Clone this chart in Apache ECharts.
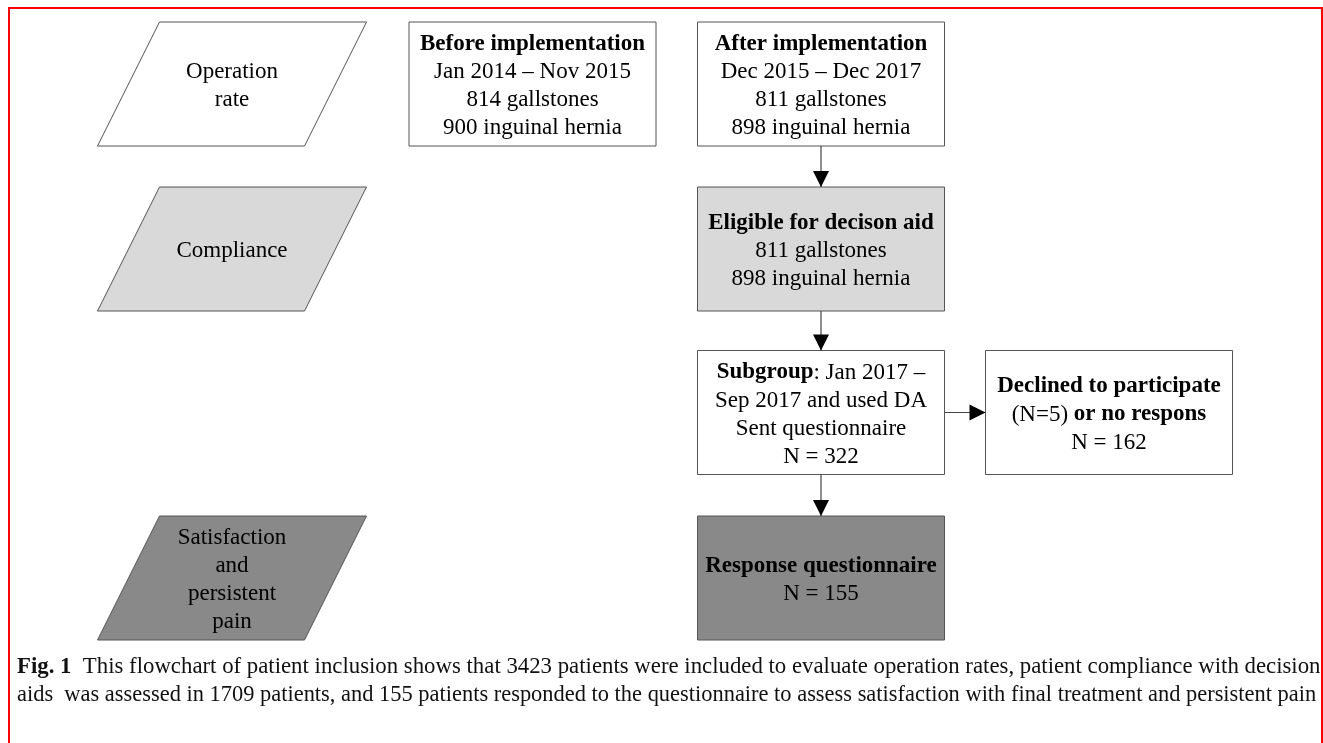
<!DOCTYPE html>
<html>
<head>
<meta charset="utf-8">
<script src="https://cdn.jsdelivr.net/npm/echarts@6/dist/echarts.min.js"></script>
<style>
  html, body { margin: 0; padding: 0; background: #fff; }
  #main { width: 1323px; height: 743px; }
</style>
</head>
<body>
<div id="main"></div>
<script>
// stage labels on the left (parallelograms)
const stageLabels = ['Operation\nrate', 'Compliance', 'Satisfaction\nand\npersistent\npain'];
const stageRows = [0, 1, 3];
const stageShades = ['white', 'light', 'dark'];

// flow boxes
const boxTexts = [
  '{b|Before implementation}\nJan 2014 – Nov 2015\n814 gallstones\n900 inguinal hernia',
  '{b|After implementation}\nDec 2015 – Dec 2017\n811 gallstones\n898 inguinal hernia',
  '{b|Eligible for decison aid}\n811 gallstones\n898 inguinal hernia',
  '{b|Subgroup}: Jan 2017 –\nSep 2017 and used DA\nSent questionnaire\nN = 322',
  '{b|Declined to participate}\n(N=5) {b|or no respons}\nN = 162',
  '{b|Response questionnaire}\nN = 155'
];
const boxCols = [1, 2, 2, 2, 3, 2];
const boxRows = [0, 0, 1, 2, 2, 3];
const boxShades = ['white', 'white', 'light', 'white', 'white', 'dark'];

// arrows: [from box, to box]
const links = [[1, 2], [2, 3], [3, 5], [3, 4]];

const captionLine1 = 'This flowchart of patient inclusion shows that 3423 patients were included to evaluate operation rates, patient compliance with decision';
const captionLine2 = 'aids  was assessed in 1709 patients, and 155 patients responded to the questionnaire to assess satisfaction with final treatment and persistent pain';

// layout (pixel centres of columns / rows, shape sizes)
const colX = [232, 532.5, 821, 1109];
const rowY = [84, 249, 412.5, 578];
const BOX_W = 247, BOX_H = 124;
const PAR_W = 207, PAR_SKEW = 62;
const shadeFill = { white: '#ffffff', light: '#d9d9d9', dark: '#898989' };
const FONT = '"Liberation Serif", "Times New Roman", serif';

const chart = echarts.init(document.getElementById('main'));

const richBold = { b: { fontWeight: 'bold', fontSize: 23, fontFamily: FONT, lineHeight: 28 } };

function textEl(x, y, text) {
  return {
    type: 'text',
    style: {
      text: text, x: x, y: y,
      align: 'center', verticalAlign: 'middle',
      fontSize: 23, fontFamily: FONT, lineHeight: 28,
      fill: '#000', rich: richBold
    },
    z2: 10
  };
}

const stageData = stageLabels.map((t, i) => [colX[0], rowY[stageRows[i]], i]);
const boxData = boxTexts.map((t, i) => [colX[boxCols[i]], rowY[boxRows[i]], i]);
const linkData = links.map((l, i) => [colX[boxCols[l[0]]], rowY[boxRows[l[0]]], i]);

const option = {
  animation: false,
  backgroundColor: '#fff',
  grid: { left: 0, right: 0, top: 0, bottom: 0 },
  xAxis: { type: 'value', min: 0, max: 1323, show: false },
  yAxis: { type: 'value', min: 0, max: 743, inverse: true, show: false },
  title: {
    text: '{b|Fig. 1}{l1|  ' + captionLine1 + '}\n{l2|' + captionLine2 + '}',
    left: 12,
    top: 648,
    textStyle: {
      fontFamily: FONT, fontSize: 22.6, fontWeight: 'normal', color: '#111', lineHeight: 28,
      rich: {
        b: { fontFamily: FONT, fontSize: 22.8, fontWeight: 'bold', color: '#111', lineHeight: 28 },
        l1: { fontFamily: FONT, fontSize: 22.8, color: '#111', lineHeight: 28 },
        l2: { fontFamily: FONT, fontSize: 22.45, color: '#111', lineHeight: 28 }
      }
    }
  },
  graphic: [{
    type: 'rect',
    shape: { x: 9, y: 8, width: 1313, height: 780 },
    style: { fill: 'none', stroke: '#ff0000', lineWidth: 2 },
    z: 100
  }],
  series: [
    {
      type: 'custom',
      name: 'stages',
      data: stageData,
      renderItem: function (params, api) {
        const p = api.coord([api.value(0), api.value(1)]);
        const i = api.value(2);
        const hw = (PAR_W + PAR_SKEW) / 2, hh = BOX_H / 2;
        return {
          type: 'group',
          children: [{
            type: 'polygon',
            shape: { points: [
              [p[0] - hw + PAR_SKEW, p[1] - hh], [p[0] + hw, p[1] - hh],
              [p[0] + hw - PAR_SKEW, p[1] + hh], [p[0] - hw, p[1] + hh]
            ] },
            style: { fill: shadeFill[stageShades[i]], stroke: '#555', lineWidth: 1 }
          }, textEl(p[0], p[1] + 1.5, stageLabels[i])]
        };
      }
    },
    {
      type: 'custom',
      name: 'boxes',
      data: boxData,
      renderItem: function (params, api) {
        const p = api.coord([api.value(0), api.value(1)]);
        const i = api.value(2);
        return {
          type: 'group',
          children: [{
            type: 'rect',
            shape: { x: p[0] - BOX_W / 2, y: p[1] - BOX_H / 2, width: BOX_W, height: BOX_H },
            style: { fill: shadeFill[boxShades[i]], stroke: '#555', lineWidth: 1 }
          }, textEl(p[0], p[1] + 2, boxTexts[i])]
        };
      }
    },
    {
      type: 'custom',
      name: 'arrows',
      data: linkData,
      renderItem: function (params, api) {
        const l = links[api.value(2)];
        const a = api.coord([colX[boxCols[l[0]]], rowY[boxRows[l[0]]]]);
        const b = api.coord([colX[boxCols[l[1]]], rowY[boxRows[l[1]]]]);
        let s, e, head;
        const AL = 16, AW = 8;
        if (Math.abs(a[0] - b[0]) < 1) {
          s = [a[0], a[1] + BOX_H / 2];
          e = [b[0], b[1] - BOX_H / 2];
          head = [[e[0] - AW, e[1] - AL], [e[0] + AW, e[1] - AL], e];
        } else {
          s = [a[0] + BOX_W / 2, a[1]];
          e = [b[0] - BOX_W / 2, b[1]];
          head = [[e[0] - AL, e[1] - AW], [e[0] - AL, e[1] + AW], e];
        }
        return {
          type: 'group',
          children: [
            { type: 'line', shape: { x1: s[0], y1: s[1], x2: e[0], y2: e[1] },
              style: { stroke: '#444', lineWidth: 1.2 } },
            { type: 'polygon', shape: { points: head }, style: { fill: '#000' } }
          ]
        };
      }
    }
  ]
};

chart.setOption(option);
</script>
</body>
</html>
